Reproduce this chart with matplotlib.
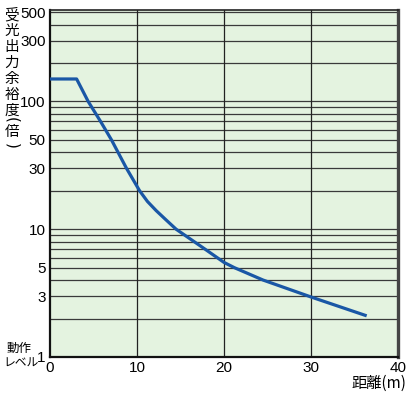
import matplotlib
matplotlib.use("Agg")
import matplotlib.pyplot as plt
from matplotlib.ticker import FixedLocator, NullFormatter

plt.rcParams['font.family'] = ['Liberation Sans Narrow', 'Liberation Sans', 'DejaVu Sans']

# 距離 [m] と 受光出力余裕度 [倍]
distance = [0, 3.06, 4.39, 5.8, 7.07, 7.82, 8.79, 10.3, 11.2, 12.2, 13.3, 14.5, 17.8, 20.0, 21.2, 24.5, 30.0, 36.4]
margin = [150, 150, 100, 70, 50, 40, 30, 20, 16.5, 14, 11.9, 10, 7, 5.5, 5, 4, 2.95, 2.1]

x_ticks = [0, 10, 20, 30, 40]
y_ticks = [1, 3, 5, 10, 30, 50, 100, 300, 500]
y_grid = [v * d for d in (1, 10, 100) for v in range(1, 10) if v * d <= 500]

fig = plt.figure(figsize=(4.10, 3.97), dpi=100)
ax = fig.add_axes([50 / 410, 1 - 357 / 397, 348 / 410, 347 / 397])
ax.set_facecolor('#e4f3e0')

ax.set_yscale('log')
ax.set_xlim(0, 40)
ax.set_ylim(1, 520)

for v in y_grid:
    ax.axhline(v, color='#3a3a3a', lw=0.9, zorder=1)
for v in x_ticks[1:-1]:
    ax.axvline(v, color='#222222', lw=0.9, zorder=1)

ax.plot(distance, margin, color='#1a57a6', lw=2.3, zorder=3, solid_capstyle='butt')

ax.set_xticks(x_ticks)
ax.set_xticklabels([str(v) for v in x_ticks], fontsize=11)
ax.yaxis.set_major_locator(FixedLocator(y_ticks))
ax.yaxis.set_minor_locator(FixedLocator([]))
ax.yaxis.set_minor_formatter(NullFormatter())
ax.set_yticklabels([str(v) for v in y_ticks], fontsize=11)
ax.tick_params(length=0, pad=3)

for side in ['left', 'bottom']:
    ax.spines[side].set_linewidth(1.6)
    ax.spines[side].set_color('#111111')
ax.spines['right'].set_linewidth(2.4)
ax.spines['right'].set_color('#444444')
ax.spines['top'].set_linewidth(1.2)
ax.spines['top'].set_color('#222222')

jp = ['Noto Sans CJK JP', 'DejaVu Sans']
# 縦書きの軸ラベル
chars = ['受', '光', '出', '力', '余', '裕', '度', '倍']
ys = [15, 31, 47, 63, 79, 95, 111, 132]
for c, yy in zip(chars, ys):
    fig.text(12 / 410, 1 - yy / 397, c, family=jp, fontsize=10.5,
             ha='center', va='center')
# 縦書きの括弧（回転させた丸括弧）
fig.text(12 / 410, 1 - 120 / 397, '(', family='DejaVu Sans', fontsize=11,
         rotation=270, rotation_mode='anchor', ha='center', va='center')
fig.text(12 / 410, 1 - 146 / 397, ')', family='DejaVu Sans', fontsize=11,
         rotation=270, rotation_mode='anchor', ha='center', va='center')

fig.text(19 / 410, 1 - 348 / 397, '動作', family=jp, fontsize=9, ha='center', va='center')
fig.text(21 / 410, 1 - 363 / 397, 'レベル', family=jp, fontsize=8.5, ha='center', va='center')
fig.text(406 / 410, 1 - 383 / 397, '距離(m)', family=jp, fontsize=11, ha='right', va='center')

fig.savefig('out.png', dpi=100, facecolor='white')
